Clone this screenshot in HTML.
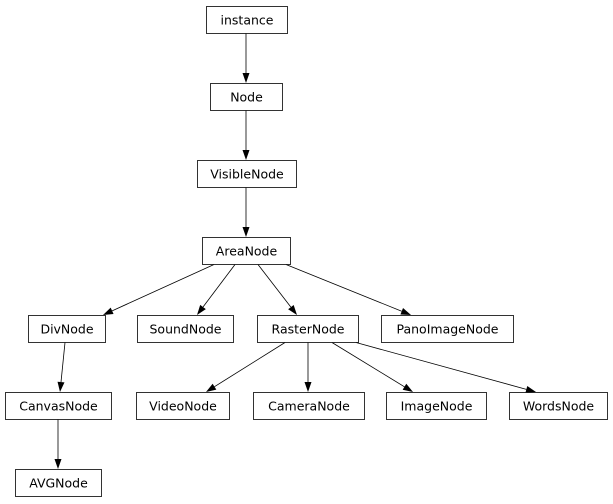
<!DOCTYPE html>
<html><head><meta charset="utf-8"><style>
html,body{margin:0;padding:0;background:#fff;width:613px;height:504px;overflow:hidden}
svg{display:block}
text{font-family:"DejaVu Sans","Liberation Sans",sans-serif;font-size:12.5px;fill:#000}
</style></head><body>
<svg id="g" width="613" height="504" viewBox="0 0 613 504"></svg>
<script>
const names=["instance","Node","VisibleNode","AreaNode","DivNode","SoundNode","RasterNode","PanoImageNode","CanvasNode","VideoNode","CameraNode","ImageNode","WordsNode","AVGNode"];
const boxX=[206,210,197,202,28,137,257,381,5,136,253,386,509,15];
const boxW=[81,72,99,88,77,96,101,132,106,93,111,100,98,86];
const boxY=[6,83,160,237,315,315,315,315,392,392,392,392,392,469];
const edgeFrom=["instance","Node","VisibleNode","AreaNode","AreaNode","AreaNode","AreaNode","DivNode","RasterNode","RasterNode","RasterNode","RasterNode","CanvasNode"];
const edgeTo=["Node","VisibleNode","AreaNode","DivNode","SoundNode","RasterNode","PanoImageNode","CanvasNode","VideoNode","CameraNode","ImageNode","WordsNode","AVGNode"];
const tailX=[246,246,246,214,235,258,286,65,285,308,332,356,58];
const headX=[246,246,246,103,197,297,411,60,206,308,413,536,58];
const svg=document.getElementById('g');const NS='http://www.w3.org/2000/svg';
const H=27;
function idx(n){return names.indexOf(n);}
edgeFrom.forEach((f,i)=>{
  const a=idx(f),b=idx(edgeTo[i]);
  const x1=tailX[i],y1=boxY[a]+H+0.5;
  const x2=headX[i],y2=boxY[b];
  const dx=x2-x1,dy=y2-y1,L=Math.hypot(dx,dy),ux=dx/L,uy=dy/L;
  const al=10,aw=3.5;
  const bx=x2-ux*al,by=y2-uy*al;
  const g=document.createElementNS(NS,'g');
  
  
  const ln=document.createElementNS(NS,'line');
  ln.setAttribute('x1',x1);ln.setAttribute('y1',y1);ln.setAttribute('x2',bx);ln.setAttribute('y2',by);
  ln.setAttribute('stroke','#000');ln.setAttribute('stroke-width','0.8');
  g.appendChild(ln);
  const p=document.createElementNS(NS,'polygon');
  p.setAttribute('points',`${x2},${y2} ${bx-uy*aw},${by+ux*aw} ${bx+uy*aw},${by-ux*aw}`);
  p.setAttribute('fill','#000');
  g.appendChild(p);
  svg.appendChild(g);
});
names.forEach((n,i)=>{
  const g=document.createElementNS(NS,'g');
  
  
  const r=document.createElementNS(NS,'rect');
  r.setAttribute('x',boxX[i]+0.5);r.setAttribute('y',boxY[i]+0.5);r.setAttribute('width',boxW[i]);r.setAttribute('height',H);
  r.setAttribute('fill','#fff');r.setAttribute('stroke','#000');r.setAttribute('stroke-width','0.8');
  g.appendChild(r);
  const t=document.createElementNS(NS,'text');
  t.setAttribute('x',boxX[i]+boxW[i]/2+0.5);t.setAttribute('y',boxY[i]+18.5);t.setAttribute('text-anchor','middle');
  t.textContent=n;
  g.appendChild(t);
  svg.appendChild(g);
});
</script>
</body></html>
